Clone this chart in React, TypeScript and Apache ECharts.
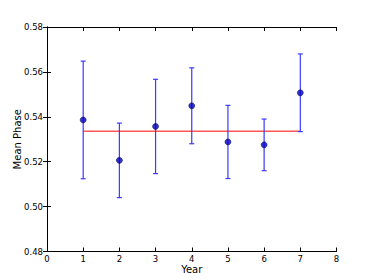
import React, { useEffect, useRef } from "react";
import * as echarts from "echarts";

const years = [1, 2, 3, 4, 5, 6, 7];
const meanPhase = [0.5386, 0.5206, 0.5357, 0.5449, 0.5288, 0.5275, 0.5507];
const errors = [0.0262, 0.0166, 0.0210, 0.0169, 0.0163, 0.0115, 0.0173];
const overallMean = 0.5336;
const xTicks = [0, 1, 2, 3, 4, 5, 6, 7, 8];
const yTicks = [0.48, 0.5, 0.52, 0.54, 0.56, 0.58];

export default function App() {
  const ref = useRef<HTMLDivElement>(null);
  useEffect(() => {
    document.body.style.margin = "0";
    const chart = echarts.init(ref.current!, null, { renderer: "svg" });
    const font = "DejaVu Sans";
    const axisLine = { show: true, lineStyle: { color: "#000", width: 1 } };
    const tick = { show: true, inside: true, length: 4, lineStyle: { color: "#000", width: 1 } };
    const errData = years.map((x, i) => [x, meanPhase[i], errors[i]]);
    chart.setOption({
      animation: false,
      backgroundColor: "#fff",
      grid: { left: 47, right: 37.5, top: 27, bottom: 28.5, outerBoundsMode: "none", containLabel: false },
      xAxis: [
        {
          type: "value",
          min: xTicks[0],
          max: xTicks[xTicks.length - 1],
          interval: 1,
          name: "Year",
          nameLocation: "middle",
          nameGap: 13,
          nameMoveOverlap: false,
          nameTextStyle: { fontFamily: font, fontSize: 10, color: "#000" },
          axisLine,
          axisTick: tick,
          splitLine: { show: false },
          axisLabel: { fontFamily: font, fontSize: 8.5, color: "#000", margin: 3 },
        },
        {
          type: "value",
          position: "top",
          min: xTicks[0],
          max: xTicks[xTicks.length - 1],
          interval: 1,
          axisLine,
          axisTick: tick,
          splitLine: { show: false },
          axisLabel: { show: false },
        },
      ],
      yAxis: [
        {
          type: "value",
          min: yTicks[0],
          max: yTicks[yTicks.length - 1],
          interval: 0.02,
          name: "Mean Phase",
          nameLocation: "middle",
          nameGap: 25,
          nameMoveOverlap: false,
          nameTextStyle: { fontFamily: font, fontSize: 10, color: "#000" },
          axisLine,
          axisTick: tick,
          splitLine: { show: false },
          axisLabel: {
            fontFamily: font,
            fontSize: 8.5,
            color: "#000",
            margin: 4,
            formatter: (v: number) => v.toFixed(2),
          },
        },
        {
          type: "value",
          position: "right",
          min: yTicks[0],
          max: yTicks[yTicks.length - 1],
          interval: 0.02,
          axisLine,
          axisTick: tick,
          splitLine: { show: false },
          axisLabel: { show: false },
        },
      ],
      series: [
        {
          type: "line",
          data: [
            [years[0], overallMean],
            [years[years.length - 1], overallMean],
          ],
          symbol: "none",
          lineStyle: { color: "#ff0000", width: 1 },
          z: 1,
        },
        {
          type: "custom",
          data: errData,
          z: 2,
          renderItem: (params: any, api: any) => {
            const x = api.value(0);
            const y = api.value(1);
            const e = api.value(2);
            const top = api.coord([x, y + e]);
            const bot = api.coord([x, y - e]);
            const hw = 2.5;
            const style = { stroke: "#3a3aff", lineWidth: 1.2 };
            return {
              type: "group",
              children: [
                { type: "line", shape: { x1: top[0], y1: top[1], x2: bot[0], y2: bot[1] }, style },
                { type: "line", shape: { x1: top[0] - hw, y1: top[1], x2: top[0] + hw, y2: top[1] }, style },
                { type: "line", shape: { x1: bot[0] - hw, y1: bot[1], x2: bot[0] + hw, y2: bot[1] }, style },
              ],
            };
          },
        },
        {
          type: "scatter",
          data: years.map((x, i) => [x, meanPhase[i]]),
          symbol: "circle",
          symbolSize: 6,
          itemStyle: { color: "#0000c8", borderColor: "#000030", borderWidth: 0.6 },
          z: 3,
        },
      ],
    });
    return () => chart.dispose();
  }, []);
  return <div ref={ref} style={{ width: 374, height: 280 }} />;
}
